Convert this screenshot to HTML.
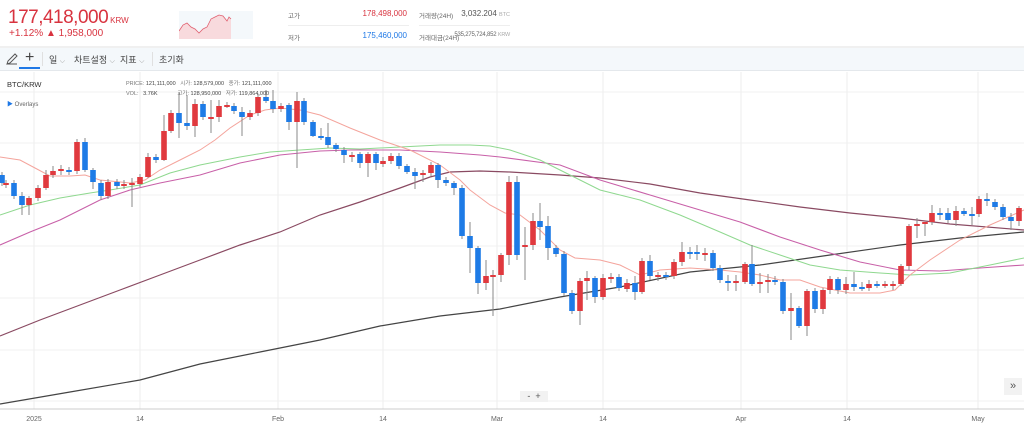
<!DOCTYPE html>
<html><head><meta charset="utf-8"><style>
*{margin:0;padding:0;box-sizing:border-box}
body{width:1024px;height:423px;overflow:hidden;background:#fff;font-family:"Liberation Sans","Noto Sans CJK KR",sans-serif;position:relative}
.a{position:absolute;white-space:nowrap}
</style></head><body>
<div class="a" style="left:8px;top:7px;font-size:19px;color:#d8333f;letter-spacing:-0.5px;line-height:22px">177,418,000<span style="font-size:8px;margin-left:2px;letter-spacing:0">KRW</span></div>
<div class="a" style="left:9px;top:28px;font-size:10px;color:#d8333f;line-height:12px">+1.12% ▲ 1,958,000</div>
<svg class="a" style="left:179px;top:11px" width="74" height="28"><rect width="74" height="28" fill="#f4f8fb"/><path d="M0,28 L0,20 4,14 8,12 12,16 16,18 20,22 24,18 28,16 32,8 36,6 40,4 44,5 48,10 50,6 52,8 52,28Z" fill="#f8dadd"/><path d="M0,20 4,14 8,12 12,16 16,18 20,22 24,18 28,16 32,8 36,6 40,4 44,5 48,10 50,6 52,8" fill="none" stroke="#e06070" stroke-width="0.8"/></svg>
<div class="a" style="left:288px;top:10px;font-size:6.5px;color:#666">고가</div>
<div class="a" style="left:340px;top:9px;width:67px;text-align:right;font-size:8px;color:#d8333f">178,498,000</div>
<div class="a" style="left:419px;top:10px;font-size:6.5px;color:#666">거래량(24H)</div>
<div class="a" style="left:440px;top:9px;width:70px;text-align:right;font-size:8px;color:#555">3,032.204 <span style="font-size:5.5px;color:#aaa">BTC</span></div>
<div class="a" style="left:288px;top:25px;width:121px;height:1px;background:#eee"></div>
<div class="a" style="left:419px;top:25px;width:91px;height:1px;background:#eee"></div>
<div class="a" style="left:288px;top:32px;font-size:6.5px;color:#666">저가</div>
<div class="a" style="left:340px;top:31px;width:67px;text-align:right;font-size:8px;color:#1e78e6">175,460,000</div>
<div class="a" style="left:419px;top:32px;font-size:6.5px;color:#666">거래대금(24H)</div>
<div class="a" style="left:440px;top:32px;width:70px;text-align:right;font-size:6px;color:#666;letter-spacing:-0.2px">535,275,724,852 <span style="font-size:5.5px;color:#aaa">KRW</span></div>
<div class="a" style="left:0;top:46px;width:1024px;height:2px;background:#f0f0f0"></div>
<div class="a" style="left:0;top:48px;width:1024px;height:23px;background:#f4f8fb;border-bottom:1px solid #e4e8ec"></div>
<svg class="a" style="left:4px;top:51px" width="16" height="16"><path d="M3,13 L4,10 11,3 13,5 6,12Z M3,13 H13" fill="none" stroke="#555" stroke-width="1"/></svg>
<div class="a" style="left:25px;top:49px;font-size:16px;color:#444">+</div>
<div class="a" style="left:19px;top:67px;width:21px;height:2px;background:#1e78e6"></div>
<div class="a" style="left:42px;top:52px;width:1px;height:14px;background:#e0e0e0"></div>
<div class="a" style="left:49px;top:53px;font-size:9px;color:#444">일 <span style="color:#999;font-size:7px">⌵</span></div>
<div class="a" style="left:74px;top:53px;font-size:9px;color:#444">차트설정 <span style="color:#999;font-size:7px">⌵</span></div>
<div class="a" style="left:120px;top:53px;font-size:9px;color:#444">지표 <span style="color:#999;font-size:7px">⌵</span></div>
<div class="a" style="left:152px;top:52px;width:1px;height:14px;background:#e0e0e0"></div>
<div class="a" style="left:159px;top:53px;font-size:9px;color:#444">초기화</div>
<svg class="a" id="c" style="left:0;top:72px" width="1024" height="351"></svg>
<div class="a" style="left:7px;top:80px;font-size:7.5px;color:#333">BTC/KRW</div>
<div class="a" style="left:126px;top:79px;font-size:5.5px;color:#777;line-height:10px">PRICE: <span style="color:#444">121,111,000</span>&nbsp;&nbsp;&nbsp;시가: <span style="color:#444">128,579,000</span>&nbsp;&nbsp;&nbsp;종가: <span style="color:#444">121,111,000</span><br>VOL: &nbsp;&nbsp;<span style="color:#444">3.76K</span>&nbsp;&nbsp;&nbsp;&nbsp;&nbsp;&nbsp;&nbsp;&nbsp;&nbsp;&nbsp;&nbsp;&nbsp;&nbsp;고가: <span style="color:#444">128,950,000</span>&nbsp;&nbsp;&nbsp;저가: <span style="color:#444">119,864,000</span></div>
<div class="a" style="left:7px;top:99px;font-size:6px;color:#666"><span style="color:#1e78e6">▶</span> Overlays</div>
<div class="a" style="left:520px;top:391px;width:28px;height:11px;background:#f2f2f2;font-size:9px;color:#555;text-align:center;line-height:11px">-&nbsp;&nbsp;+</div>
<div class="a" style="left:1004px;top:378px;width:18px;height:17px;background:#f2f2f2;font-size:11px;color:#555;text-align:center;line-height:16px">»</div>
<script>
var s='';
var G=[92,143,195,246,298,350,401],V=[34,140,278,383,497,603,741,847,978];
G.forEach(function(y){s+='<line x1="0" x2="1024" y1="'+(y-72)+'" y2="'+(y-72)+'" stroke="#f0f0f0"/>'});
V.forEach(function(x){s+='<line y1="0" y2="337" x1="'+x+'" x2="'+x+'" stroke="#eee"/>'});
s+='<line x1="0" x2="1024" y1="337" y2="337" stroke="#ccc"/>';
var L=[[34,'2025'],[140,'14'],[278,'Feb'],[383,'14'],[497,'Mar'],[603,'14'],[741,'Apr'],[847,'14'],[978,'May']];
L.forEach(function(l){s+='<text x="'+l[0]+'" y="349" font-size="7" fill="#666" text-anchor="middle" font-family="Liberation Sans">'+l[1]+'</text>'});
function pl(p,c,w){var d=p.map(function(q){return q[0]+','+(q[1]-72)}).join(' ');s+='<polyline points="'+d+'" fill="none" stroke="'+c+'" stroke-width="'+w+'"/>'}
pl([[0,404],[70,392],[140,380],[200,364],[260,352],[320,340],[380,326],[440,316],[500,309],[560,297],[620,287],[690,272],[760,265],[830,255],[900,245],[960,238],[1024,232]],'#444',1.2);
pl([[0,336],[40,320],[80,305],[120,290],[160,275],[200,260],[240,245],[280,232],[320,215],[360,202],[400,188],[430,177],[450,172],[480,171],[510,172],[560,175],[600,178],[650,184],[700,193],[750,200],[800,207],[850,213],[900,218],[950,224],[1024,230]],'#8a4a62',1.2);
pl([[0,245],[30,232],[60,220],[100,200],[130,190],[160,183],[200,175],[240,163],[280,155],[320,151],[350,150],[400,150],[440,152],[480,155],[500,157],[560,165],[600,180],[650,195],[700,210],[740,222],[780,237],[820,250],[860,262],[900,270],[940,271],[980,268],[1024,265]],'#c860a8',1.1);
pl([[0,215],[30,205],[60,198],[90,193],[110,190],[140,185],[170,173],[200,165],[240,157],[270,152],[300,150],[330,148],[360,149],[400,147],[440,145],[470,145],[490,146],[510,150],[540,160],[570,175],[600,190],[640,200],[680,215],[720,232],[750,245],[780,255],[810,265],[840,270],[880,273],[910,275],[950,273],[990,265],[1024,258]],'#8fd88f',1);
pl([[0,157],[20,160],[35,168],[50,176],[70,176],[85,175],[100,180],[130,183],[145,180],[160,170],[180,160],[200,150],[215,140],[230,128],[250,115],[265,110],[280,108],[300,110],[320,115],[350,128],[380,140],[410,150],[440,165],[460,180],[470,190],[490,205],[505,213],[520,215],[540,230],[560,250],[575,258],[600,260],[620,265],[640,275],[660,270],[690,268],[720,270],[740,272],[760,275],[780,280],[800,280],[820,287],[850,293],[880,293],[895,290],[910,275],[930,260],[960,240],[990,225],[1024,210]],'#f4a49c',1);
var C=[[2,175,183,'b'],[6,183,185,'r'],[14,183,196,'b'],[22,196,205,'b',192,215],[29,198,205,'r',196,215],[38,188,198,'r'],[46,175,188,'r',170,190],[53,171,175,'r',166,178],[61,169,171,'r',165,175],[69,170,172,'b',167,175],[77,142,171,'r'],[85,142,170,'b',138,172],[93,170,182,'b',168,189],[101,183,196,'b',180,200],[108,182,196,'r'],[117,182,186,'b'],[124,184,186,'r',180,189],[132,183,185,'r',178,207],[140,177,184,'r'],[148,157,177,'r',153,178],[156,157,160,'b'],[164,131,160,'r',115,161],[171,113,131,'r',110,133],[179,113,123,'b',92,138],[187,123,126,'b',95,130],[195,104,126,'r',99,137],[203,104,117,'b'],[211,117,118,'r',100,133],[219,106,117,'r',100,122],[227,105,107,'r',102,108],[234,106,111,'b'],[242,112,117,'b',107,136],[250,113,117,'r'],[258,97,113,'r'],[266,97,101,'b',90,103],[273,101,109,'b',90,113],[281,106,109,'r'],[289,105,122,'b',103,130],[297,101,122,'r',92,168],[304,101,122,'b'],[313,122,136,'b',120,137],[321,136,137,'b',128,140],[328,137,145,'b',123,148],[336,145,149,'b',143,152],[344,150,155,'b',147,163],[352,155,157,'r',152,162],[360,154,163,'b',152,168],[368,154,163,'r',152,177],[376,154,163,'b',152,170],[383,161,164,'r',157,167],[391,156,161,'r'],[399,156,166,'b'],[407,166,172,'b',164,174],[415,172,176,'b',168,189],[423,173,175,'r',170,182],[431,165,173,'r'],[438,165,180,'b',163,188],[446,180,183,'b'],[454,183,188,'b',181,195],[462,188,236,'b'],[470,236,248,'b',222,273],[478,248,283,'b',246,294],[486,276,283,'r',260,290],[493,275,277,'r',270,316],[501,255,275,'r',253,282],[509,182,255,'r',176,265],[517,182,255,'b',176,260],[525,245,247,'r',227,280],[533,221,245,'r',213,250],[540,221,227,'b',203,240],[548,226,248,'b',216,260],[556,248,254,'b'],[564,254,293,'b'],[572,293,311,'b'],[580,281,311,'r',278,325],[587,278,281,'r',271,300],[595,278,297,'b',276,303],[603,278,297,'r',274,300],[611,277,278,'r',273,283],[619,277,288,'b'],[627,283,289,'r',279,292],[635,283,292,'b',276,300],[642,261,292,'r',258,294],[650,261,276,'b',255,280],[658,275,277,'r',272,281],[666,275,277,'b'],[674,262,276,'r'],[682,252,262,'r',242,266],[690,252,254,'b',247,259],[697,252,254,'b',245,260],[705,253,255,'r',248,261],[713,253,268,'b'],[720,268,280,'b'],[728,281,283,'b',275,291],[736,281,283,'r',275,291],[745,264,282,'r',262,284],[752,264,284,'b',245,286],[760,282,284,'r',273,293],[768,280,282,'r',274,293],[775,280,282,'b',276,285],[783,282,311,'b'],[791,308,311,'r',293,340],[799,308,326,'b',306,328],[807,291,326,'r',289,336],[815,291,309,'b',288,313],[823,290,309,'r',288,314],[830,279,290,'r',276,294],[838,279,290,'b',277,294],[846,284,290,'r',277,294],[854,284,287,'b',272,291],[862,287,288,'b',282,291],[869,284,288,'r',280,291],[877,284,286,'b',281,288],[885,284,286,'r',281,288],[893,284,286,'r',281,290],[901,266,284,'r',264,286],[909,226,266,'r',224,270],[917,224,226,'r',218,238],[925,222,224,'r',222,236],[932,213,222,'r',205,225],[940,213,215,'b',208,220],[948,213,220,'b',208,223],[956,211,220,'r',206,226],[964,211,214,'b',208,216],[972,214,216,'b',207,225],[979,199,214,'r'],[987,199,201,'b',193,206],[995,202,207,'b'],[1003,207,217,'b'],[1011,217,221,'b',213,230],[1019,208,221,'r',206,226]];
C.forEach(function(c){var x=c[0],t=c[1]-72,b=c[2]-72,col=c[3]=='r'?'#e0393e':'#1e7be6';var ht=(c[4]||c[1]-3)-72,lb=(c[5]||c[2]+3)-72;if(b-t<2)b=t+2;
s+='<line x1="'+x+'" x2="'+x+'" y1="'+ht+'" y2="'+lb+'" stroke="#888" stroke-width="1"/>';
s+='<rect x="'+(x-2.8)+'" y="'+t+'" width="5.6" height="'+(b-t)+'" fill="'+col+'"/>'});
document.getElementById('c').innerHTML=s;
</script>
</body></html>
